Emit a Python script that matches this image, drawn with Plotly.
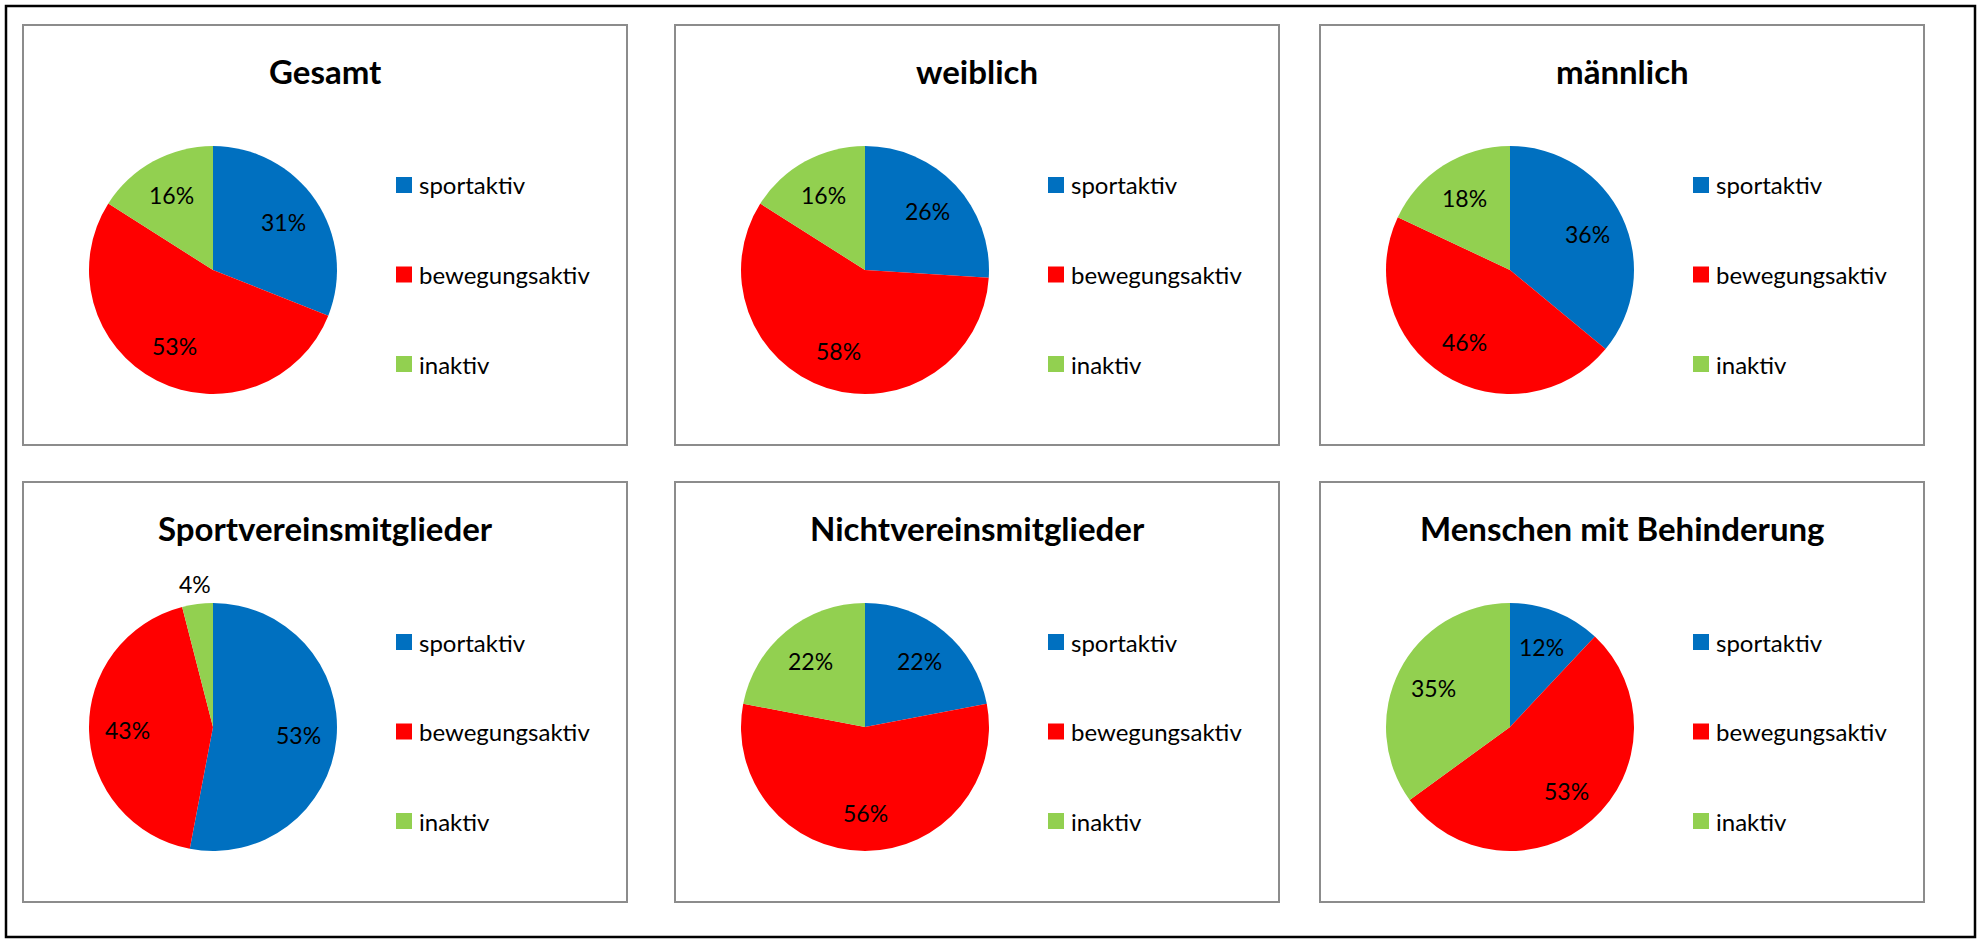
import math
import plotly.graph_objects as go

categories = ["sportaktiv", "bewegungsaktiv", "inaktiv"]
colors = ["#0070C0", "#FF0000", "#92D050"]

titles = ["Gesamt", "weiblich", "männlich",
          "Sportvereinsmitglieder", "Nichtvereinsmitglieder", "Menschen mit Behinderung"]
gesamt = [31, 53, 16]
weiblich = [26, 58, 16]
maennlich = [36, 46, 18]
sportverein = [53, 43, 4]
nichtverein = [22, 56, 22]
behinderung = [12, 53, 35]
series = [gesamt, weiblich, maennlich, sportverein, nichtverein, behinderung]

W, H = 1980, 941
col_x = [23, 675, 1320]
row_y = [25, 482]
PW, PH = 604, 420

def fx(px):
    return px / W

def fy(py):
    return 1 - py / H

fig = go.Figure()
shapes = []
annotations = []

FONT = "Lato"

for i, (title, vals) in enumerate(zip(titles, series)):
    x0 = col_x[i % 3]
    y0 = row_y[i // 3]
    # panel frame
    shapes.append(dict(type="rect", xref="paper", yref="paper",
                       x0=fx(x0), x1=fx(x0 + PW), y0=fy(y0), y1=fy(y0 + PH),
                       line=dict(color="#8C8C8C", width=2), fillcolor="rgba(0,0,0,0)"))
    # pie
    cx, cy, d = x0 + 190, y0 + 245, 248
    fig.add_trace(go.Pie(
        labels=categories, values=vals, sort=False, direction="clockwise", rotation=0,
        marker=dict(colors=colors, line=dict(width=0)),
        textinfo="none",
        domain=dict(x=[fx(cx - d / 2), fx(cx + d / 2)], y=[fy(cy + d / 2), fy(cy - d / 2)]),
        showlegend=False, hoverinfo="label+value", name=title,
    ))
    # data labels at slice mid-angle (best-fit style)
    total = sum(vals)
    cum = 0
    for v in vals:
        theta = 2 * math.pi * (cum + v / 2) / total
        rr = (0.69 if v >= 8 else 1.16) * d / 2
        annotations.append(dict(xref="paper", yref="paper",
                                x=fx(cx + rr * math.sin(theta)), y=fy(cy - rr * math.cos(theta)),
                                text=f"{v}%", showarrow=False, xanchor="center", yanchor="middle",
                                font=dict(family=FONT, size=23, color="black")))
        cum += v
    # title
    annotations.append(dict(xref="paper", yref="paper", x=fx(x0 + PW / 2), y=fy(y0 + 46),
                            text="<b>" + title + "</b>", showarrow=False,
                            xanchor="center", yanchor="middle",
                            font=dict(family=FONT, size=33, color="black")))
    # legend
    for k, (cat, col) in enumerate(zip(categories, colors)):
        ly = y0 + 160 + k * 89.5
        shapes.append(dict(type="rect", xref="paper", yref="paper",
                           x0=fx(x0 + 373), x1=fx(x0 + 389), y0=fy(ly + 8), y1=fy(ly - 8),
                           line=dict(width=0), fillcolor=col))
        annotations.append(dict(xref="paper", yref="paper", x=fx(x0 + 394), y=fy(ly),
                                text=cat, showarrow=False, xanchor="left", yanchor="middle",
                                font=dict(family=FONT, size=24, color="black")))

# outer frame
shapes.append(dict(type="rect", xref="paper", yref="paper",
                   x0=fx(6), x1=fx(1975), y0=fy(6), y1=fy(937),
                   line=dict(color="black", width=2.5), fillcolor="rgba(0,0,0,0)"))

fig.update_layout(
    width=W, height=H, autosize=False,
    margin=dict(l=0, r=0, t=0, b=0),
    paper_bgcolor="white", plot_bgcolor="white",
    shapes=shapes, annotations=annotations,
    font=dict(family=FONT),
)

fig.write_html("out.html", config={"displayModeBar": False},
               post_script="document.body.style.margin='0';document.body.style.overflow='hidden';")
